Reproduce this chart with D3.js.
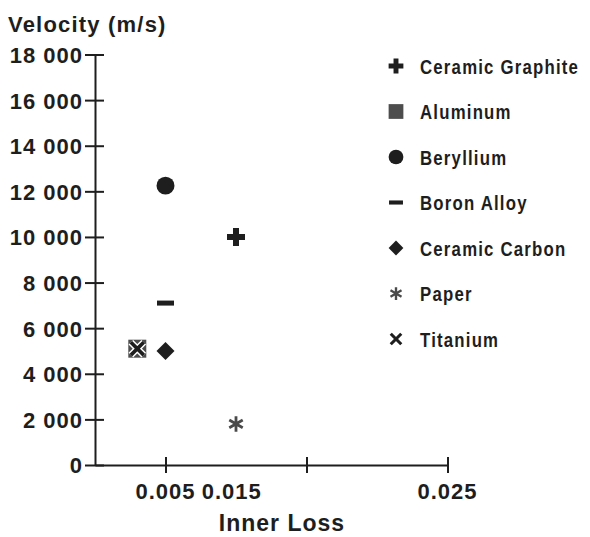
<!DOCTYPE html>
<html>
<head>
<meta charset="utf-8">
<script src="https://cdn.jsdelivr.net/npm/d3@7"></script>
<style>
  body { margin: 0; background: #fff; }
  svg { display: block; font-family: "Liberation Sans", Arial, Helvetica, sans-serif; }
</style>
</head>
<body>
<div id="chart"></div>
<script>
// values
const materials = ["Ceramic Graphite", "Aluminum", "Beryllium", "Boron Alloy", "Ceramic Carbon", "Paper", "Titanium"];
const innerLoss = [0.010, 0.003, 0.005, 0.005, 0.005, 0.010, 0.003];
const velocity = [10000, 5100, 12250, 7100, 5000, 1800, 5100];

const yTicks = [0, 2000, 4000, 6000, 8000, 10000, 12000, 14000, 16000, 18000];
const xTicks = [0.005, 0.015, 0.025];
const xTickLabels = ["0.005", "0.015", "0.025"];
// the printed figure puts the middle label left of its tick
const xTickLabelAt = [0.005, 0.0097, 0.025];

const WIDTH = 590;
const HEIGHT = 537;
const MARGIN = { top: 54.5, right: 142.5, bottom: 72, left: 95 };
const INK = "#1e1e1e";

const MARKERS = {
  "Ceramic Graphite": { type: d3.symbolCross, size: 180, fill: INK },
  "Aluminum": { type: d3.symbolSquare, size: 324, fill: "#4d4d4d" },
  "Beryllium": { type: d3.symbolCircle, size: 254, fill: INK },
  "Boron Alloy": { dash: [17, 5], fill: INK },
  "Ceramic Carbon": { type: d3.symbolSquare, size: 162, fill: INK, rotate: 45 },
  "Paper": { type: d3.symbolAsterisk, size: 170, stroke: "#4a4a4a", width: 2.8 },
  "Titanium": { type: d3.symbolTimes, size: 110, stroke: INK, width: 3.6, halo: true },
};

const points = materials.map((name, i) => ({ name, loss: innerLoss[i], v: velocity[i] }));

const x = d3.scaleLinear().domain([0, 0.025]).range([MARGIN.left, WIDTH - MARGIN.right]);
const y = d3.scaleLinear().domain([0, 18000]).range([HEIGHT - MARGIN.bottom, MARGIN.top]);

const svg = d3.select("#chart").append("svg")
  .attr("width", WIDTH)
  .attr("height", HEIGHT)
  .attr("viewBox", `0 0 ${WIDTH} ${HEIGHT}`);

function drawMarker(g, name, k) {
  const m = MARKERS[name];
  if (m.dash) {
    g.append("rect")
      .attr("x", -m.dash[0] * k / 2).attr("y", -m.dash[1] * k / 2)
      .attr("width", m.dash[0] * k).attr("height", m.dash[1] * k)
      .attr("fill", m.fill);
    return;
  }
  const d = d3.symbol().type(m.type).size(m.size * k * k)();
  const rot = m.rotate ? `rotate(${m.rotate})` : null;
  if (m.stroke) {
    if (m.halo && k === 1) {
      g.append("path").attr("d", d).attr("transform", rot)
        .attr("fill", "none").attr("stroke", "#fff").attr("stroke-width", m.width + 3);
    }
    g.append("path").attr("d", d).attr("transform", rot)
      .attr("fill", "none").attr("stroke", m.stroke).attr("stroke-width", m.width * Math.max(k, 0.85));
  } else {
    g.append("path").attr("d", d).attr("transform", rot).attr("fill", m.fill);
  }
}

const fmt = d3.formatLocale({ decimal: ".", thousands: " ", grouping: [3], currency: ["", ""] }).format(",");

// y axis
svg.append("g")
  .attr("transform", `translate(${MARGIN.left},0)`)
  .call(d3.axisLeft(y).tickValues(yTicks).tickFormat(fmt).tickSize(10).tickSizeOuter(0).tickPadding(2))
  .call((g) => g.select(".domain").attr("stroke", INK).attr("stroke-width", 2))
  .call((g) => g.selectAll(".tick line").attr("x1", 9).attr("stroke", INK).attr("stroke-width", 2))
  .call((g) => g.selectAll(".tick text")
    .attr("fill", INK).attr("font-size", 22).attr("font-weight", "bold")
    .attr("font-family", "'Liberation Sans', Arial, sans-serif")
    .attr("letter-spacing", 1).attr("dy", "0.36em"));

// x axis (labels drawn separately)
svg.append("g")
  .attr("transform", `translate(0,${HEIGHT - MARGIN.bottom})`)
  .call(d3.axisBottom(x).tickValues(xTicks).tickFormat("").tickSize(8).tickSizeOuter(0))
  .call((g) => g.select(".domain").attr("stroke", INK).attr("stroke-width", 2))
  .call((g) => g.selectAll(".tick line").attr("y1", -8).attr("stroke", INK).attr("stroke-width", 2));

svg.append("g")
  .selectAll("text")
  .data(xTickLabels)
  .join("text")
  .attr("x", (d, i) => x(xTickLabelAt[i]))
  .attr("y", HEIGHT - MARGIN.bottom + 34)
  .attr("text-anchor", "middle")
  .attr("font-size", 22)
  .attr("font-weight", "bold")
  .attr("letter-spacing", 1)
  .attr("fill", INK)
  .text((d) => d);

// axis titles
svg.append("text")
  .attr("x", 8)
  .attr("y", 32)
  .attr("font-size", 22)
  .attr("font-weight", "bold")
  .attr("letter-spacing", 1.2)
  .attr("fill", INK)
  .text("Velocity (m/s)");

svg.append("text")
  .attr("x", 282)
  .attr("y", 531)
  .attr("text-anchor", "middle")
  .attr("font-size", 23)
  .attr("font-weight", "bold")
  .attr("letter-spacing", 1)
  .attr("fill", INK)
  .text("Inner Loss");

// points
svg.append("g")
  .selectAll("g")
  .data(points)
  .join("g")
  .attr("transform", (d) => `translate(${x(d.loss)},${y(d.v)})`)
  .each(function (d) { drawMarker(d3.select(this), d.name, 1); });

// legend (condensed face: squeeze Liberation Sans Bold horizontally)
const legendY = d3.scalePoint().domain(materials).range([66, 339]);
const legend = svg.append("g")
  .selectAll("g")
  .data(materials)
  .join("g")
  .attr("transform", (d) => `translate(396,${legendY(d)})`);

legend.each(function (d) { drawMarker(d3.select(this), d, 0.82); });

legend.append("text")
  .attr("transform", "translate(24,0) scale(0.8,1)")
  .attr("dy", "0.36em")
  .attr("font-size", 21)
  .attr("font-weight", "bold")
  .attr("letter-spacing", 1.5)
  .attr("fill", INK)
  .text((d) => d);
</script>
</body>
</html>
